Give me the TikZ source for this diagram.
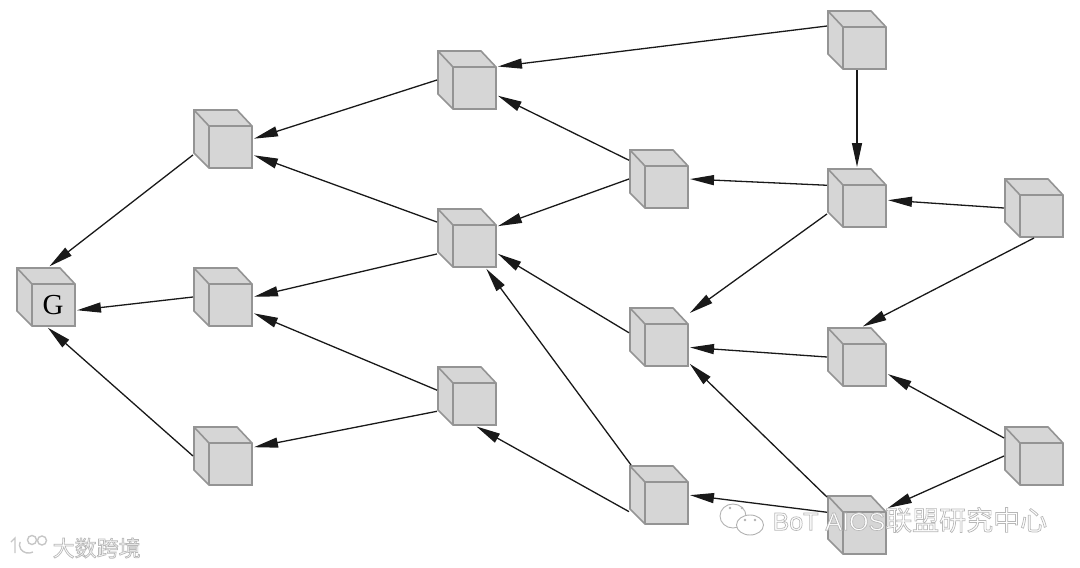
\documentclass[tikz,border=0pt]{standalone}
\usepackage{fontspec}
\usepackage{xcolor}
\usetikzlibrary{arrows.meta,positioning,shapes.geometric}
\newfontfamily\cjkfont{Noto Sans CJK SC}
\newfontfamily\markfont{Liberation Sans}
\newfontfamily\labelfont{Liberation Serif}
\definecolor{cubeface}{gray}{0.84}
\definecolor{cubeedge}{gray}{0.58}
\newcommand{\outlinedtext}[1]{\special{pdf:code 2 Tr 0.7 w 0.72 G 1 g}#1\special{pdf:code 0 Tr 0 g 0 G}}
\tikzset{
  cube/.style={minimum width=60pt,minimum height=60pt,inner sep=0pt,outer sep=0pt,
    path picture={
      \draw[cubeedge,line width=1.6pt,fill=cubeface]
        (-29,29) -- (14,29) -- (29,13) -- (29,-29) -- (-14,-29) -- (-29,-14) -- cycle;
      \draw[cubeedge,line width=1.6pt]
        (-29,29) -- (-14,13) -- (29,13) (-14,13) -- (-14,-29);
    }},
  bubble/.style={draw=gray!60,line width=0.9pt,fill=white,ellipse,inner sep=0pt},
  logoline/.style={draw=gray!45,line width=1.4pt}
}
\begin{document}
\begin{tikzpicture}[x=1pt,y=1pt,>={Triangle[length=24pt,width=10pt]},shorten >=1pt,line width=1.3pt,draw=black!90]
  \useasboundingbox (0,0) rectangle (1080,-568);

  % left to right, column by column
  \node[cube,label={[name=Gtext,xshift=7pt,yshift=-8pt,font=\fontsize{29}{29}\labelfont]center:G}] (G) at (46,-297) {};
  \node[cube] (A2) [right=117pt of G] {};
  \node[cube] (A1) [above=98pt of A2] {};
  \node[cube] (A3) [below=99pt of A2] {};
  \node[cube] (B2) [right=184pt of A2,yshift=59pt] {};
  \node[cube] (B1) [above=98pt of B2] {};
  \node[cube] (B3) [below=98pt of B2] {};
  \node[cube] (C1) [right=132pt of B1,yshift=-99pt] {};
  \node[cube] (C2) [below=98pt of C1] {};
  \node[cube] (C3) [below=98pt of C2] {};
  \node[cube] (D1) [right=138pt of C1,yshift=-19pt] {};
  \node[cube] (D0) [above=98pt of D1] {};
  \node[cube] (D2) [below=99pt of D1] {};
  \node[cube] (D3) [below=108pt of D2] {};
  \node[cube] (E1) [right=117pt of D1,yshift=-10pt] {};
  \node[cube] (E2) [below=188pt of E1] {};

  \path[->]
    % into G
    (A1.208) edge (G.85)
    (A2.west) edge (G.-24)
    (A3.west) edge (G.-88)

    % into the A column
    (B1.west) edge (A1.east)
    (B2.152) edge (A1.-28)
    (B2.208) edge (A2.east)
    (B3.169) edge (A2.-28)
    (B3.207) edge (A3.16)

    % into the B column
    (D0.155) edge (B1.24)
    (C1.148) edge (B1.-27)
    (C1.west) edge (B2.21)
    (C2.172) edge (B2.-27)
    (C3.133) edge (B2.-58)
    (C3.209) edge (B3.-74)

    % into the C column
    (D1.157) edge (C1.east)
    (D1.208) edge (C2.38)
    (D2.west) edge (C2.-19)
    (D3.137) edge (C2.-41)
    (D3.157) edge (C3.east)

    % into the D column
    (D0.south) edge (D1.north)
    (E1.west) edge (D1.-4)
    (E1.south) edge (D2.81)
    (E2.149) edge (D2.-29)
    (E2.west) edge (D3.29)
    ;

  % watermark, lower right
  \node[bubble,minimum width=26pt,minimum height=24pt] (bubbleA) at (733,-516) {};
  \node[bubble,minimum width=27pt,minimum height=20pt] (bubbleB) at (750,-525) {};
  \fill[gray!60] (730,-508) circle (1.3pt) (742,-508) circle (1.3pt) (745,-520) circle (1.3pt) (755,-520) circle (1.3pt);
  \node[anchor=west,inner sep=0pt,font=\fontsize{25}{25}\markfont] (botmark) at (772,-520)
    {\outlinedtext{BoT AIOS{\cjkfont\fontsize{27}{27}\selectfont 联盟研究中心}}};

  % watermark, lower left
  \draw[logoline] (11,-542) -- (15,-538) -- (15,-554);
  \draw[logoline] (33,-552) arc (-60:-210:9pt and 8pt);
  \node[logoline,draw,circle,minimum size=9pt,inner sep=0pt] (logoA) at (32,-540) {};
  \node[logoline,draw,circle,minimum size=9pt,inner sep=0pt] (logoB) at (42,-540.5) {};
  \node[anchor=west,inner sep=0pt,font=\fontsize{22}{22}\cjkfont] (datamark) at (52,-548)
    {\outlinedtext{大数跨境}};
\end{tikzpicture}
\end{document}
